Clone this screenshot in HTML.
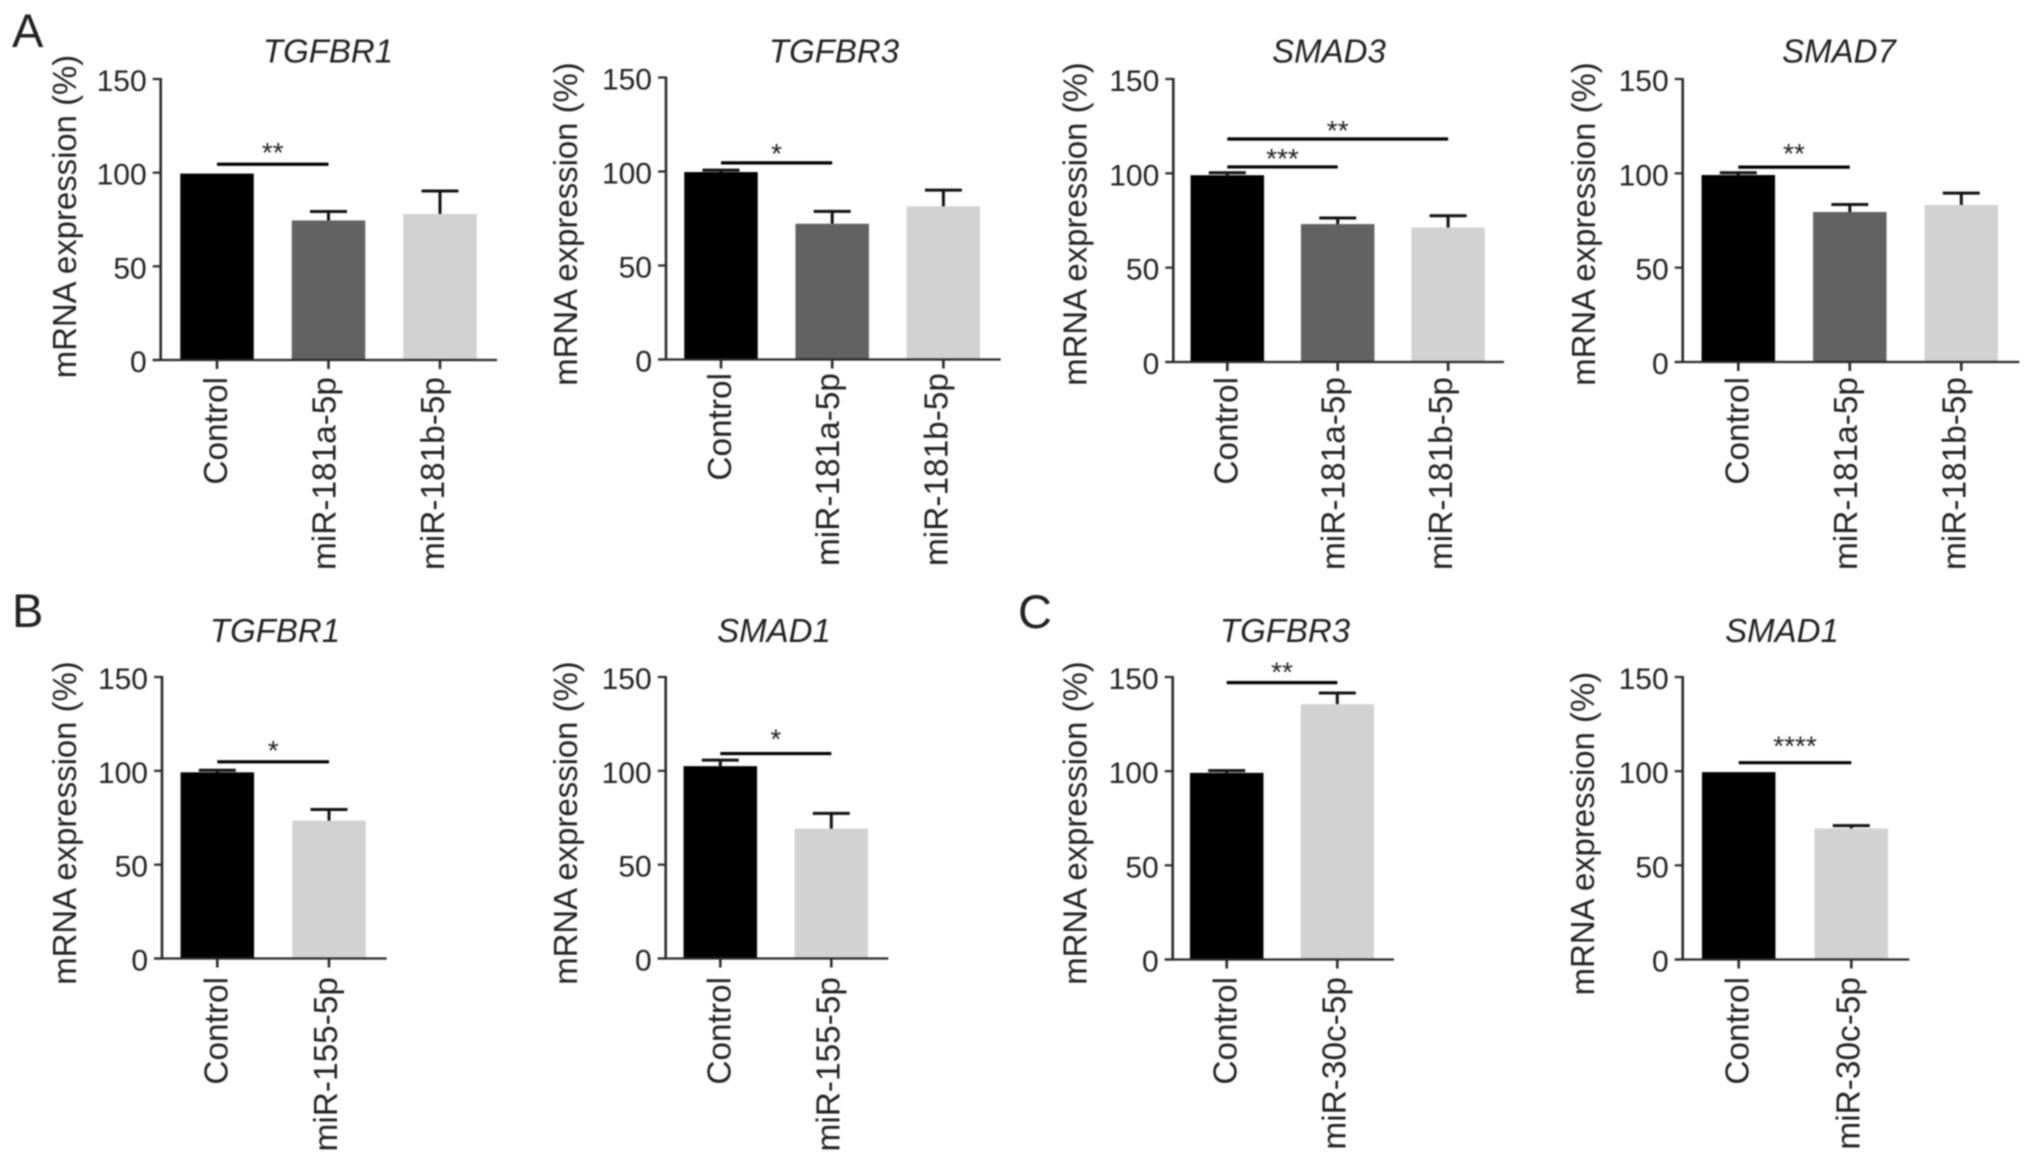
<!DOCTYPE html>
<html lang="en">
<head>
<meta charset="utf-8">
<title>mRNA expression bar charts</title>
<style>
  html, body { margin: 0; padding: 0; background: #fff; }
  #figure { display: block; width: 2032px; height: 1160px; filter: blur(0.7px); }
  text { font-family: "Liberation Sans", Arial, sans-serif; fill: #222; }
</style>
</head>
<body>
<svg id="figure" xmlns="http://www.w3.org/2000/svg" width="2032" height="1160" viewBox="0 0 2032 1160">
  <rect x="0" y="0" width="2032" height="1160" fill="#fff"></rect>
  <text x="12" y="47" font-size="47">A</text>
  <text x="12" y="627" font-size="47">B</text>
  <text x="1018" y="628" font-size="47">C</text>
</svg>
<script>
const yTickLabels = [0, 50, 100, 150];
const yAxisLabel = 'mRNA expression (%)';

const a1Categories = ['Control', 'miR-181a-5p', 'miR-181b-5p'];
const a1Values = [99.5, 74.5, 78];
const a1Errors = [0, 4.8, 12.2];
const a1SigLevels = [104.5];
const a1SigFrom = [0];
const a1SigTo = [1];
const a1SigStars = ['**'];

const a2Categories = ['Control', 'miR-181a-5p', 'miR-181b-5p'];
const a2Values = [99.7, 72.2, 81.5];
const a2Errors = [1, 6.6, 8.6];
const a2SigLevels = [104.6];
const a2SigFrom = [0];
const a2SigTo = [1];
const a2SigStars = ['*'];

const a3Categories = ['Control', 'miR-181a-5p', 'miR-181b-5p'];
const a3Values = [99, 73.1, 71.3];
const a3Errors = [1.3, 3.2, 6.2];
const a3SigLevels = [103.4, 118.2];
const a3SigFrom = [0, 0];
const a3SigTo = [1, 2];
const a3SigStars = ['***', '**'];

const a4Categories = ['Control', 'miR-181a-5p', 'miR-181b-5p'];
const a4Values = [99.1, 79.5, 83.3];
const a4Errors = [1.2, 4, 6.2];
const a4SigLevels = [103.3];
const a4SigFrom = [0];
const a4SigTo = [1];
const a4SigStars = ['**'];

const b1Categories = ['Control', 'miR-155-5p'];
const b1Values = [99.2, 73.5];
const b1Errors = [1.1, 5.9];
const b1SigLevels = [104.8];
const b1SigFrom = [0];
const b1SigTo = [1];
const b1SigStars = ['*'];

const b2Categories = ['Control', 'miR-155-5p'];
const b2Values = [102.5, 69.2];
const b2Errors = [3.2, 8.1];
const b2SigLevels = [109.2];
const b2SigFrom = [0];
const b2SigTo = [1];
const b2SigStars = ['*'];

const c1Categories = ['Control', 'miR-30c-5p'];
const c1Values = [99.1, 135.6];
const c1Errors = [1.2, 5.9];
const c1SigLevels = [147];
const c1SigFrom = [0];
const c1SigTo = [1];
const c1SigStars = ['**'];

const c2Categories = ['Control', 'miR-30c-5p'];
const c2Values = [99.5, 69.6];
const c2Errors = [0, 1.5];
const c2SigLevels = [104.5];
const c2SigFrom = [0];
const c2SigTo = [1];
const c2SigStars = ['****'];

const charts = [
  { id: 'a-tgfbr1', gene: 'TGFBR1', axisX: 160.7, right: 497, y0: 360, y150: 79, xFirst: 217, xStep: 111.5, titleX: 328, titleY: 62.5, yLabelX: 76, yLabelMid: 216.5, labelGap: 17, starGap: 17, labelShift: [10, 7, 4], cats: a1Categories, vals: a1Values, errs: a1Errors, sigL: a1SigLevels, sigF: a1SigFrom, sigT: a1SigTo, sigS: a1SigStars },
  { id: 'a-tgfbr3', gene: 'TGFBR3', axisX: 666, right: 1000.7, y0: 359.5, y150: 77.5, xFirst: 721, xStep: 111.2, titleX: 834, titleY: 62.5, yLabelX: 577, yLabelMid: 224, labelGap: 13.5, starGap: 15, labelShift: [10, 7, 4], cats: a2Categories, vals: a2Values, errs: a2Errors, sigL: a2SigLevels, sigF: a2SigFrom, sigT: a2SigTo, sigS: a2SigStars },
  { id: 'a-smad3', gene: 'SMAD3', axisX: 1173.3, right: 1504, y0: 362, y150: 79, xFirst: 1227.3, xStep: 110.4, titleX: 1329, titleY: 62.5, yLabelX: 1086.7, yLabelMid: 224, labelGap: 15, starGap: 14, labelShift: [10, 7, 4], cats: a3Categories, vals: a3Values, errs: a3Errors, sigL: a3SigLevels, sigF: a3SigFrom, sigT: a3SigTo, sigS: a3SigStars },
  { id: 'a-smad7', gene: 'SMAD7', axisX: 1682.7, right: 2019.3, y0: 362, y150: 79, xFirst: 1738.3, xStep: 111.5, titleX: 1839, titleY: 62.5, yLabelX: 1595, yLabelMid: 224, labelGap: 15, starGap: 19, labelShift: [10, 7, 4], cats: a4Categories, vals: a4Values, errs: a4Errors, sigL: a4SigLevels, sigF: a4SigFrom, sigT: a4SigTo, sigS: a4SigStars },
  { id: 'b-tgfbr1', gene: 'TGFBR1', axisX: 162, right: 386.7, y0: 958.5, y150: 677, xFirst: 217.3, xStep: 111.7, titleX: 275, titleY: 642, yLabelX: 76, yLabelMid: 823, labelGap: 18.5, starGap: 17, labelShift: [10, 8], cats: b1Categories, vals: b1Values, errs: b1Errors, sigL: b1SigLevels, sigF: b1SigFrom, sigT: b1SigTo, sigS: b1SigStars },
  { id: 'b-smad1', gene: 'SMAD1', axisX: 665.7, right: 888.3, y0: 958.5, y150: 677, xFirst: 720.3, xStep: 111, titleX: 774, titleY: 642, yLabelX: 577, yLabelMid: 823, labelGap: 18.5, starGap: 20, labelShift: [10, 8], cats: b2Categories, vals: b2Values, errs: b2Errors, sigL: b2SigLevels, sigF: b2SigFrom, sigT: b2SigTo, sigS: b2SigStars },
  { id: 'c-tgfbr3', gene: 'TGFBR3', axisX: 1172.7, right: 1394, y0: 959.5, y150: 677, xFirst: 1226.7, xStep: 110.6, titleX: 1285, titleY: 642, yLabelX: 1086.7, yLabelMid: 823, labelGap: 17.5, starGap: 16, labelShift: [10, 8], cats: c1Categories, vals: c1Values, errs: c1Errors, sigL: c1SigLevels, sigF: c1SigFrom, sigT: c1SigTo, sigS: c1SigStars },
  { id: 'c-smad1', gene: 'SMAD1', axisX: 1682.7, right: 1909.3, y0: 959.5, y150: 677, xFirst: 1738.7, xStep: 112.6, titleX: 1782, titleY: 642, yLabelX: 1594, yLabelMid: 833.6, labelGap: 17.5, starGap: 22, labelShift: [10, 8], cats: c2Categories, vals: c2Values, errs: c2Errors, sigL: c2SigLevels, sigF: c2SigFrom, sigT: c2SigTo, sigS: c2SigStars }
];

const NS = 'http://www.w3.org/2000/svg';
const root = document.getElementById('figure');
const BAR_WIDTH = 73.5;
const CAP_WIDTH = 37;
const threeColors = ['#000000', '#626262', '#d2d2d2'];
const twoColors = ['#000000', '#d2d2d2'];
const INK = '#2a2a2a';

function make(parent, tag, props, content) {
  const el = document.createElementNS(NS, tag);
  Object.keys(props).forEach(function (k) { el.setAttribute(k, props[k]); });
  if (content !== undefined) el.textContent = content;
  parent.appendChild(el);
  return el;
}

charts.forEach(function (c) {
  const yScale = function (v) { return c.y0 - (v / 150) * (c.y0 - c.y150); };
  const xScale = function (i) { return c.xFirst + i * c.xStep; };
  const colors = c.cats.length === 3 ? threeColors : twoColors;

  const g = make(root, 'g', {});
  
  

  const title = make(g, 'text', { x: c.titleX, y: c.titleY, 'font-size': 33, 'font-style': 'italic', 'text-anchor': 'middle' }, c.gene);
  
  

  const yTitle = make(g, 'text', { transform: 'translate(' + c.yLabelX + ',' + c.yLabelMid + ') rotate(-90)', 'font-size': 32.9, 'text-anchor': 'middle' }, yAxisLabel);
  
  

  c.vals.forEach(function (v, i) {
    const bar = make(g, 'rect', { x: xScale(i) - BAR_WIDTH / 2, y: yScale(v), width: BAR_WIDTH, height: c.y0 - yScale(v), fill: colors[i] });
    
    

    if (c.errs[i] > 0) {
      const topY = yScale(v + c.errs[i]);
      const stem = make(g, 'line', { x1: xScale(i), x2: xScale(i), y1: yScale(v), y2: topY, stroke: '#111', 'stroke-width': 3 });
      
      
      const cap = make(g, 'line', { x1: xScale(i) - CAP_WIDTH / 2, x2: xScale(i) + CAP_WIDTH / 2, y1: topY, y2: topY, stroke: '#111', 'stroke-width': 3 });
      
      
    }
  });

  const yAxis = make(g, 'line', { x1: c.axisX, x2: c.axisX, y1: c.y150 - 1, y2: c.y0 + 1, stroke: INK, 'stroke-width': 2.6 });
  
  

  const xAxis = make(g, 'line', { x1: c.axisX - 8, x2: c.right, y1: c.y0, y2: c.y0, stroke: INK, 'stroke-width': 2.2 });
  
  

  yTickLabels.forEach(function (t) {
    const tick = make(g, 'line', { x1: c.axisX - 8, x2: c.axisX, y1: yScale(t), y2: yScale(t), stroke: INK, 'stroke-width': 2.2 });
    
    
    const label = make(g, 'text', { x: c.axisX - 14, y: yScale(t) + 12, 'font-size': 30, 'text-anchor': 'end' }, String(t));
    
    
  });

  c.cats.forEach(function (name, i) {
    const tick = make(g, 'line', { x1: xScale(i), x2: xScale(i), y1: c.y0, y2: c.y0 + 9, stroke: INK, 'stroke-width': 2.6 });
    
    
    const label = make(g, 'text', { transform: 'translate(' + (xScale(i) + c.labelShift[i]) + ',' + (c.y0 + c.labelGap) + ') rotate(-90)', 'font-size': 33.4, 'text-anchor': 'end' }, name);
    
    
  });

  c.sigL.forEach(function (level, i) {
    const xa = xScale(c.sigF[i]);
    const xb = xScale(c.sigT[i]);
    const sig = make(g, 'line', { x1: xa, x2: xb, y1: yScale(level), y2: yScale(level), stroke: '#000', 'stroke-width': 3.2 });
    
    
    const star = make(g, 'text', { x: (xa + xb) / 2, y: yScale(level) - c.starGap + 15, 'font-size': 28, 'text-anchor': 'middle' }, c.sigS[i]);
    
    
  });
});
</script>
</body>
</html>
